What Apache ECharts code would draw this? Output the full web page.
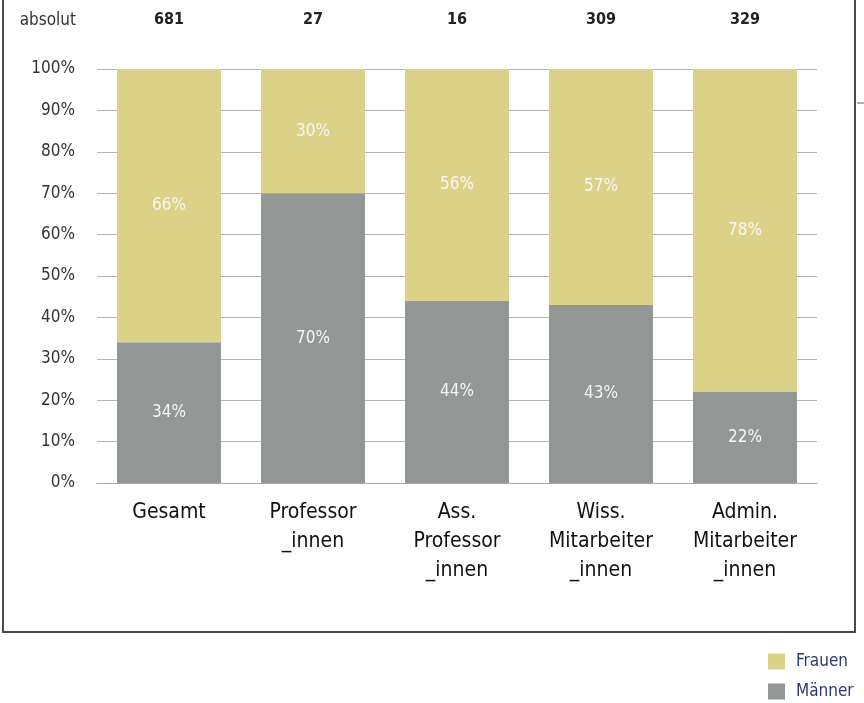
<!DOCTYPE html>
<html>
<head>
<meta charset="utf-8">
<script src="https://cdn.jsdelivr.net/npm/echarts@6/dist/echarts.min.js"></script>
<style>
  html, body { margin: 0; padding: 0; background: #fff; }
  #chart { width: 864px; height: 703px; }
</style>
</head>
<body>
<div id="chart"></div>
<script>
// Staff groups and their gender shares (percent)
const categories = ['Gesamt', 'Professor\n_innen', 'Ass.\nProfessor\n_innen', 'Wiss.\nMitarbeiter\n_innen', 'Admin.\nMitarbeiter\n_innen'];
const absolut = ['681', '27', '16', '309', '329'];
const maenner = [34, 70, 44, 43, 22];
const frauen = [66, 30, 56, 57, 78];

const FONT = '"Liberation Sans Narrow", "DejaVu Sans Condensed", "Roboto", sans-serif';
const COLOR_FRAUEN = '#dcd287';
const COLOR_MAENNER = '#939795';

const chart = echarts.init(document.getElementById('chart'), null, { renderer: 'canvas' });

const barLabel = {
  show: true,
  position: 'inside',
  color: '#f6f6f2',
  fontFamily: FONT,
  fontSize: 17,
  formatter: p => p.value + '%'
};

chart.setOption({
  animation: false,
  textStyle: { fontFamily: FONT },
  grid: { left: 97, right: 47, top: 69, bottom: 220, containLabel: false },
  legend: {
    orient: 'vertical',
    left: 768,
    bottom: 3,
    padding: 0,
    itemWidth: 17,
    itemHeight: 16,
    itemGap: 13,
    icon: 'rect',
    data: ['Frauen', 'Männer'],
    textStyle: { fontFamily: FONT, fontSize: 17, color: '#2b3c6e', padding: [0, 0, 0, 6] },
    selectedMode: false
  },
  xAxis: [
    {
      type: 'category',
      data: categories,
      axisLine: { show: true, lineStyle: { color: '#a8a8a8', width: 1 } },
      axisTick: { show: false },
      axisLabel: {
        color: '#111',
        fontSize: 21,
        lineHeight: 29,
        margin: 15,
        fontFamily: FONT,
        verticalAlign: 'top',
        interval: 0
      }
    },
    {
      type: 'category',
      position: 'top',
      data: absolut,
      axisLine: { show: false },
      axisTick: { show: false },
      axisLabel: {
        color: '#222',
        fontSize: 16,
        fontWeight: 'bold',
        margin: 41,
        fontFamily: FONT,
        interval: 0
      }
    }
  ],
  yAxis: {
    type: 'value',
    min: 0,
    max: 100,
    interval: 10,
    axisLine: { show: false },
    axisTick: { show: false },
    splitLine: { show: true, lineStyle: { color: '#b4b4b4', width: 1 } },
    axisLabel: {
      color: '#333',
      fontSize: 17,
      margin: 22,
      fontFamily: FONT,
      formatter: v => v + '%'
    }
  },
  series: [
    {
      name: 'Männer',
      type: 'bar',
      stack: 'total',
      data: maenner,
      barWidth: 104,
      itemStyle: { color: COLOR_MAENNER },
      label: barLabel
    },
    {
      name: 'Frauen',
      type: 'bar',
      stack: 'total',
      data: frauen,
      barWidth: 104,
      itemStyle: { color: COLOR_FRAUEN },
      label: barLabel
    }
  ],
  graphic: [
    {
      type: 'text',
      right: 864 - 76,
      top: 12,
      style: { text: 'absolut', fontFamily: FONT, fontSize: 17, fill: '#333', textAlign: 'right' }
    },
    {
      type: 'polyline',
      shape: { points: [[3, -2], [3, 632], [855, 632], [855, -2]] },
      style: { stroke: '#4a4a4a', lineWidth: 2, fill: null }
    },
    {
      type: 'line',
      shape: { x1: 857, y1: 103, x2: 864, y2: 103 },
      style: { stroke: '#b0b0b0', lineWidth: 2 }
    }
  ]
});
</script>
</body>
</html>
